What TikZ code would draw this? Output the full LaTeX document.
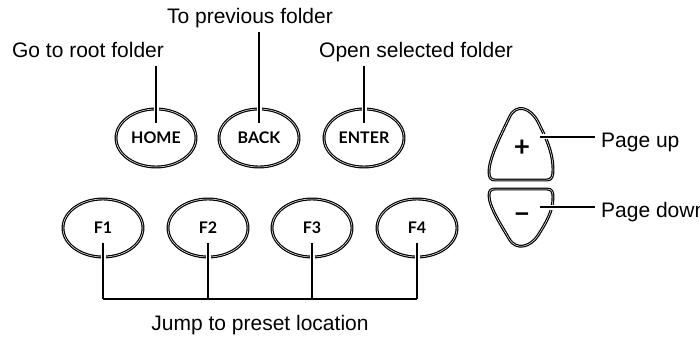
\documentclass[tikz,border=0pt]{standalone}
\usepackage{fontspec}
\setmainfont{Liberation Sans}
\newfontfamily\keyfont{Lato}
\usepackage{tikz}
\usetikzlibrary{positioning,calc,shapes.geometric}

\begin{document}
\begin{tikzpicture}[x=1pt,y=-1pt,
        keysty/.style={
            draw, ellipse, double, double distance=0.5pt, line width=1.2pt,
            minimum width=80pt, minimum height=58pt, inner sep=0pt,
            font=\keyfont\bfseries\fontsize{16}{16}\selectfont,
        },
        padsty/.style={
            draw, double, double distance=0.5pt, line width=1.2pt,
        },
        signsty/.style={
            inner sep=0pt, font=\keyfont\bfseries\fontsize{28}{28}\selectfont,
        },
        lblsty/.style={
            inner sep=0pt, font=\fontsize{21}{24}\selectfont,
        },
        linksty/.style={
            line width=1.6pt, preaction={draw=white, line width=5pt}
        }
    ]
    \useasboundingbox (0,0) rectangle (700,339);

    \node[keysty] at (156,138) (home) {HOME};
    \node[keysty] at (259,138) (back) {BACK};
    \node[keysty] at (364,138) (enter) {ENTER};
    \foreach \i/\x in {1/103,2/208,3/312,4/417}{
        \node[keysty] at (\x,228) (f\i) {F\i};
    }

    \node[lblsty, anchor=base] at (88,58) (homelbl) {Go to root folder};
    \node[lblsty, anchor=base] at (250,24) (backlbl) {To previous folder};
    \node[lblsty, anchor=base west] at (319,58) (enterlbl) {Open selected folder};
    \node[lblsty, anchor=base] at (260,330) (jumplbl) {Jump to preset location};

    \foreach \k in {home,back,enter}{
        \draw[linksty] ($(\k lbl.base -| \k.north)+(0,8)$) -- ($(\k.north)+(0,15)$);
    }
    \foreach \i in {1,...,4}{
        \draw[linksty] ($(f\i.center)+(0,15)$) -- ($(f\i.center)+(0,71)$);
    }
    \draw[line width=1.6pt] ($(f1.center)+(0,71)$) -- ($(f4.center)+(0,71)$);

    % page keys
    \begin{scope}[shift={(522,180)}]
        \draw[padsty] (-27,0) -- (25,0) .. controls (30,0) and (31,-4) .. (31,-10)
            .. controls (31,-28) and (24,-42) .. (16,-58)
            .. controls (9,-72) and (-6,-78) .. (-13,-62)
            .. controls (-21,-45) and (-33,-22) .. (-33,-8)
            .. controls (-33,-2) and (-31,0) .. (-27,0) -- cycle;
    \end{scope}
    \begin{scope}[shift={(522,189)}, yscale=-0.8]
        \draw[padsty] (-27,0) -- (25,0) .. controls (30,0) and (31,-4) .. (31,-10)
            .. controls (31,-28) and (24,-42) .. (16,-58)
            .. controls (9,-72) and (-6,-78) .. (-13,-62)
            .. controls (-21,-45) and (-33,-22) .. (-33,-8)
            .. controls (-33,-2) and (-31,0) .. (-27,0) -- cycle;
    \end{scope}
    \node[signsty] at (522,148) (up) {+};
    \node[signsty] at (522,218) (down) {−};

    \node[lblsty, anchor=base west] at (601,147) (uplbl) {Page up};
    \node[lblsty, anchor=base west] at (601,217) (downlbl) {Page down};
    \draw[linksty] ($(uplbl.base west)+(-61,-10)$) -- ($(uplbl.base west)+(-6,-10)$);
    \draw[linksty] ($(downlbl.base west)+(-61,-10)$) -- ($(downlbl.base west)+(-6,-10)$);
\end{tikzpicture}
\end{document}
